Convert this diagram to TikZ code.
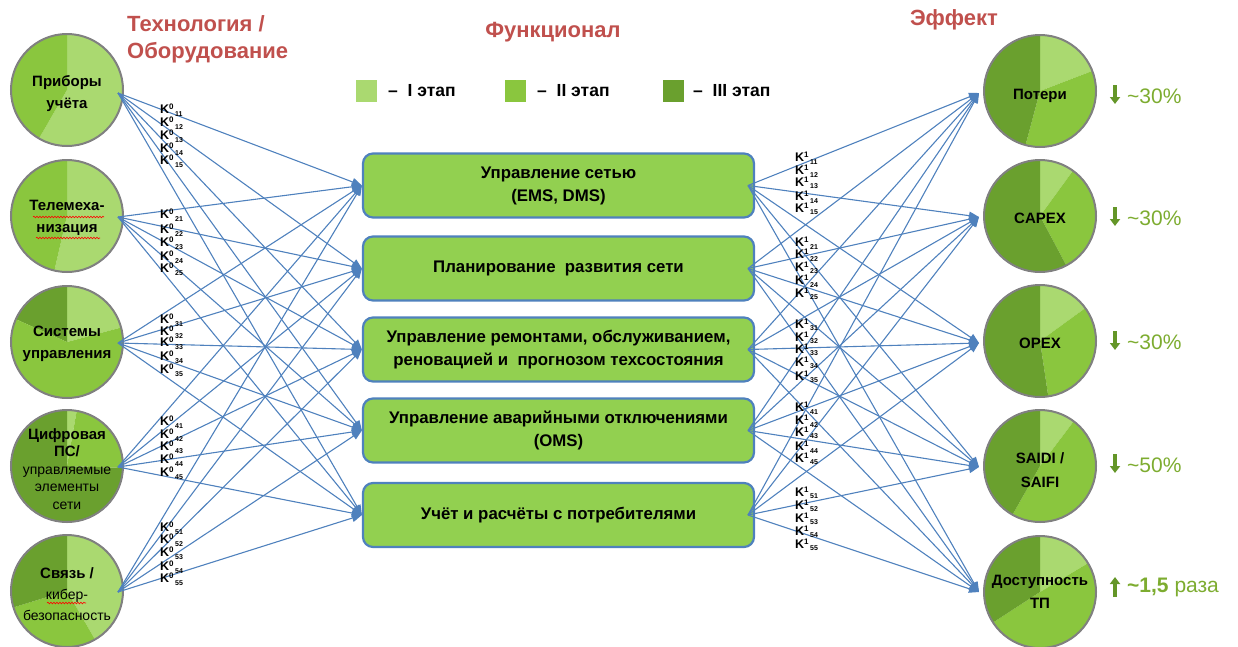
\documentclass[tikz,border=0pt]{standalone}
\usepackage{fontspec}
\setmainfont{Liberation Sans}
\usetikzlibrary{arrows.meta,decorations.pathmorphing}
\definecolor{lg}{RGB}{170,217,112}
\definecolor{mg}{RGB}{138,198,62}
\definecolor{dg}{RGB}{106,160,46}
\definecolor{boxg}{RGB}{146,208,80}
\definecolor{lnb}{RGB}{79,129,189}
\definecolor{ttl}{RGB}{192,80,77}
\definecolor{eff}{RGB}{125,172,48}
\definecolor{effa}{RGB}{100,150,40}
\definecolor{cgray}{RGB}{128,128,128}
\newcommand{\fsz}[2]{\fontsize{#1}{#2}\selectfont}
\newcommand{\kl}[2]{{\fsz{12.5}{12}\bfseries K}\raisebox{4pt}{\fsz{8}{8}\bfseries #1}\hspace{1.5pt}\raisebox{-2.5pt}{\fsz{7}{7}\bfseries #2}}
\newcommand{\pieseg}[4]{\fill[#4] (#1) -- ++({-(#2)}:56) arc[start angle={-(#2)}, end angle={-(#3)}, radius=56] -- cycle;}
\tikzset{
  ring/.style={circle, draw=cgray, line width=2pt, minimum size=112pt, inner sep=0pt},
  ctext/.style={align=center, font=\fsz{15}{22}\bfseries, inner sep=0pt},
  boxst/.style={rounded corners=10pt, draw=lnb, line width=2.2pt, fill=boxg, minimum width=391pt, minimum height=64pt, align=center, font=\fsz{16.8}{23}\bfseries},
  conn/.style={draw=lnb, line width=1.1pt, -{Triangle[length=10pt,width=8pt]}},
  ttlst/.style={text=ttl, font=\fsz{22}{24}\bfseries, inner sep=0pt},
  sq/.style={minimum width=21pt, minimum height=22pt, inner sep=0pt},
  legt/.style={anchor=west, font=\fsz{17.5}{18}\bfseries, inner sep=0pt},
  klab/.style={anchor=west, inner sep=0pt},
  efft/.style={anchor=west, text=eff, font=\fsz{21}{22}, inner sep=0pt},
  effar/.style={draw=effa, line width=3.5pt, -{Triangle[length=7pt,width=10pt]}},
  wavy/.style={draw=red, line width=0.6pt, decorate, decoration={snake, amplitude=0.8pt, segment length=3pt}}
}
\begin{document}
\begin{tikzpicture}[x=1pt,y=-1pt]
\useasboundingbox (0,0) rectangle (1238,646);
% ---------- left circles ----------
\coordinate (L1c) at (67,90);
\coordinate (L2c) at (67,216);
\coordinate (L3c) at (67,342);
\coordinate (L4c) at (67,466);
\coordinate (L5c) at (67,591);
\pieseg{L1c}{-120}{90}{lg}
\pieseg{L1c}{90}{240}{mg}
\pieseg{L2c}{-103}{90}{lg}
\pieseg{L2c}{90}{257}{mg}
\pieseg{L3c}{15}{90}{lg}
\pieseg{L3c}{90}{156}{dg}
\pieseg{L3c}{156}{375}{mg}
\pieseg{L4c}{80}{90}{lg}
\pieseg{L4c}{-2}{80}{mg}
\pieseg{L4c}{90}{358}{dg}
\pieseg{L5c}{-60}{90}{lg}
\pieseg{L5c}{197}{300}{mg}
\pieseg{L5c}{90}{197}{dg}
\foreach \i in {1,...,5} { \node[ring] (L\i) at (L\i c) {}; }
\node[ctext] (L1t) at (67,94) {Приборы\\учёта};
\node[ctext] (L2t) at (67,218) {Телемеха-\\низация};
\node[ctext] (L3t) at (67,344) {Системы\\управления};
\node[ctext, font=\fsz{14}{17.5}] (L4t) at (67,469) {\textbf{\fsz{15}{18}Цифровая}\\\textbf{\fsz{15}{18}ПС/}\\управляемые\\элементы\\сети};
\node[ctext, font=\fsz{14}{21}] (L5t) at (67,594) {\textbf{\fsz{15}{21}Связь /}\\кибер-\\безопасность};
\coordinate (W1a) at (33,217); \coordinate (W1b) at (104,217);
\coordinate (W2a) at (36,238); \coordinate (W2b) at (100,238);
\coordinate (W3a) at (47,603); \coordinate (W3b) at (86,603);
\draw[wavy] (W1a) -- (W1b);
\draw[wavy] (W2a) -- (W2b);
\draw[wavy] (W3a) -- (W3b);
% ---------- right circles ----------
\coordinate (R1c) at (1040,91);
\coordinate (R2c) at (1040,216);
\coordinate (R3c) at (1040,341);
\coordinate (R4c) at (1040,466);
\coordinate (R5c) at (1040,592);
\pieseg{R1c}{21}{90}{lg}
\pieseg{R1c}{-105}{21}{mg}
\pieseg{R1c}{90}{255}{dg}
\pieseg{R2c}{54}{90}{lg}
\pieseg{R2c}{-62}{54}{mg}
\pieseg{R2c}{90}{298}{dg}
\pieseg{R3c}{36}{90}{lg}
\pieseg{R3c}{-81.5}{36}{mg}
\pieseg{R3c}{90}{278.5}{dg}
\pieseg{R4c}{53}{90}{lg}
\pieseg{R4c}{-119.4}{53}{mg}
\pieseg{R4c}{90}{240.6}{dg}
\pieseg{R5c}{31}{90}{lg}
\pieseg{R5c}{-147}{31}{mg}
\pieseg{R5c}{90}{213}{dg}
\foreach \i in {1,...,5} { \node[ring] (R\i) at (R\i c) {}; }
\node[ctext] (R1t) at (1040,96) {Потери};
\node[ctext] (R2t) at (1040,218) {CAPEX};
\node[ctext] (R3t) at (1040,343) {OPEX};
\node[ctext, font=\fsz{15}{24}\bfseries] (R4t) at (1040,470) {SAIDI /\\SAIFI};
\node[ctext, font=\fsz{15}{23}\bfseries] (R5t) at (1040,592) {Доступность\\ТП};
% ---------- effects ----------
\foreach \i/\y in {1/96,2/218,3/342,4/465} {
  \coordinate (Ea\i) at (1115,{\y-11});
  \coordinate (Eb\i) at (1115,{\y+8});
  \draw[effar] (Ea\i) -- (Eb\i);
}
\coordinate (Ea5) at (1115,597);
\coordinate (Eb5) at (1115,577);
\draw[effar] (Ea5) -- (Eb5);
\node[efft] (E1) at (1127,96) {\textasciitilde30\%};
\node[efft] (E2) at (1127,218) {\textasciitilde30\%};
\node[efft] (E3) at (1127,342) {\textasciitilde30\%};
\node[efft] (E4) at (1127,465) {\textasciitilde50\%};
\node[efft] (E5) at (1127,587) {\textbf{\textasciitilde1,5} раза};
% ---------- titles ----------
\node[ttlst, anchor=west] (T1) at (127,24) {Технология /};
\node[ttlst, anchor=west] (T2) at (127,53) {Оборудование};
\node[ttlst] (T3) at (553,32) {Функционал};
\node[ttlst] (T4) at (954,20) {Эффект};
% ---------- legend ----------
\node[sq, fill=lg] (Q1) at (366.5,91) {};
\node[sq, fill=mg] (Q2) at (515.5,91) {};
\node[sq, fill=dg] (Q3) at (673.5,91) {};
\node[legt] (Q1t) at (388,91) {–\ \ I этап};
\node[legt] (Q2t) at (537,91) {–\ \ II этап};
\node[legt] (Q3t) at (693,91) {–\ \ III этап};
% ---------- boxes ----------
\node[boxst] (B1) at (558.5,185.5) {Управление сетью\\(EMS, DMS)};
\node[boxst] (B2) at (558.5,268.5) {Планирование\ \ развития сети};
\node[boxst] (B3) at (558.5,349.5) {Управление ремонтами, обслуживанием,\\реновацией и\ \ прогнозом техсостояния};
\node[boxst] (B4) at (558.5,430.5) {Управление аварийными отключениями\\(OMS)};
\node[boxst] (B5) at (558.5,515) {Учёт и расчёты с потребителями};
% ---------- connectors ----------
\foreach \i/\y in {1/93,2/217,3/343,4/467,5/592} {
  \coordinate (Lo\i) at (118,\y);
  \coordinate (Ri\i) at (979,\y);
}
\foreach \i/\y in {1/185.5,2/268.5,3/349.5,4/430.5,5/515} {
  \coordinate (Bo\i) at (748,\y);
}
\foreach \i in {1,...,5} {
  \foreach \j in {1,...,5} {
    \draw[conn] (Lo\i) -- (B\j.west);
    \draw[conn] (Bo\i) -- (Ri\j);
  }
}
% ---------- K labels ----------
\foreach \g/\ys in {1/{110,123,136,149,161},2/{215,230,243,257,269},3/{320,332,343,357,370},4/{422,435,447,460,473},5/{528,540,553,567,579}} {
  \foreach \y [count=\k] in \ys {
    \node[klab] (kz\g\k) at (160,\y) {\kl{0}{\g\k}};
  }
}
\foreach \g/\ys in {1/{158,171,183,197,209},2/{243,255,268,281,294},3/{325,338,350,363,377},4/{408,421,433,447,459},5/{493,506,519,532,545}} {
  \foreach \y [count=\k] in \ys {
    \node[klab] (ko\g\k) at (795,\y) {\kl{1}{\g\k}};
  }
}
\end{tikzpicture}
\end{document}
